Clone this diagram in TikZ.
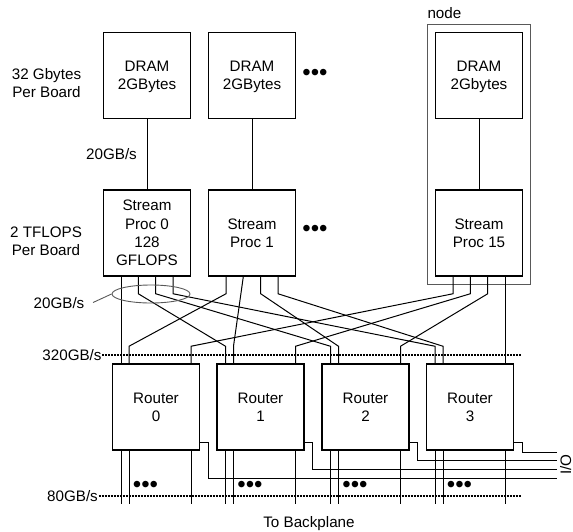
\documentclass[tikz,border=0pt]{standalone}
\usepackage{fontspec}
\setmainfont{Liberation Sans}
\usetikzlibrary{calc,shapes.geometric,fit}
\newcommand\diagfont{\fontsize{15.2}{18.4}\selectfont}
\begin{document}
\begin{tikzpicture}[x=1pt,y=-1pt,
  box/.style={draw,line width=1.5pt,minimum width=87pt,minimum height=86pt,inner sep=0pt,align=center,font=\diagfont,text depth=0pt},
  lbl/.style={inner sep=0.5pt,align=center,font=\diagfont,text depth=0pt},
  wire/.style={line width=1pt},
  dotline/.style={line width=2pt,dash pattern=on 2pt off 1pt},
  dotsym/.style={inner sep=0pt,font=\fontsize{24}{24}\selectfont},
  greyline/.style={draw=black!65,line width=0.9pt}]
\useasboundingbox (0,0) rectangle (573,531);

% memory and processors
\node[box] (d0)  at (147,75.5) {DRAM\\2GBytes};
\node[box] (d1)  at (252,75.5) {DRAM\\2GBytes};
\node[box] (d15) at (479,75.5) {DRAM\\2Gbytes};
\node[box] (p0)  at (147,233) {Stream\\Proc 0\\128\\GFLOPS};
\node[box] (p1)  at (252,233) {Stream\\Proc 1};
\node[box] (p15) at (479,233) {Stream\\Proc 15};
\node[greyline,fit=(d15)(p15),inner sep=7.5pt] (frame) {};
\node[lbl,anchor=base west] (nodelbl) at ($(frame.north west)+(0,-5)$) {node};

\draw[wire] (d0) -- (p0);
\draw[wire] (d1) -- (p1);
\draw[wire] (d15) -- (p15);

\node[dotsym] (dt1) at (315,75) {•••};
\node[dotsym] (dt2) at (315,231) {•••};

% routers
\node[box] (r0) at (156,407) {Router\\0};
\node[box] (r1) at (260.5,407) {Router\\1};
\node[box] (r2) at (365.5,407) {Router\\2};
\node[box] (r3) at (470,407) {Router\\3};

% ports
\foreach \p in {p0,p1,p15}{
  \coordinate (\p-a) at ($(\p.south)+(-26,0)$);
  \coordinate (\p-b) at ($(\p.south)+(-8.7,0)$);
  \coordinate (\p-c) at ($(\p.south)+(8.7,0)$);
  \coordinate (\p-d) at ($(\p.south)+(26,0)$);
}
\foreach \r in {r0,r1,r2,r3}{
  \coordinate (\r-a) at ($(\r.north)+(-35,0)$);
  \coordinate (\r-b) at ($(\r.north)+(-27,0)$);
  \coordinate (\r-c) at ($(\r.north)+(35,0)$);
  \coordinate (\r-sa) at ($(\r.south)+(-35,0)$);
  \coordinate (\r-sb) at ($(\r.south)+(-27,0)$);
  \coordinate (\r-sc) at ($(\r.south)+(35,0)$);
  \draw[wire] (\r-sa) -- ++(0,53);
  \draw[wire] (\r-sb) -- ++(0,53);
  \draw[wire] (\r-sc) -- ++(0,53);
  \node[dotsym] (\r-dots) at ($(\r.center)+(-10.5,80)$) {•••};
}

% crossbar wiring
\draw[wire] (p0-a) -- (r0-a);
\draw[wire] (p15-d) -- (r3-c);
\draw[wire] (p1-b) -- ($(r1-b)+(0,-17)$) -- (r1-b);
\foreach \s/\t in {p0-b/r1-a, p0-c/r2-a, p0-d/r3-a, p1-a/r0-b, p1-c/r2-b, p1-d/r3-b, p15-a/r0-c, p15-b/r1-c, p15-c/r2-c}
  \draw[wire] (\s) -- ++(0,17) -- ($(\t)+(0,-17)$) -- (\t);

% bandwidth ellipse
\node[ellipse,greyline,minimum width=78pt,minimum height=18pt,inner sep=0pt] (ell) at (151,294) {};

% labels
\node[lbl] (mem) at (46.5,83) {32 Gbytes\\Per Board};
\node[lbl] (bw20a) at (111.5,154) {20GB/s};
\node[lbl] (flops) at (46,241) {2 TFLOPS\\Per Board};
\node[lbl] (bw20b) at (59,302.5) {20GB/s};
\draw[greyline] ([xshift=8pt]bw20b.east) -- (ell.west);
\node[lbl] (bw320) at (72,354.5) {320GB/s};
\node[lbl] (bw80) at (72.5,495.5) {80GB/s};
\node[lbl] (back) at (309,521.5) {To Backplane};

\coordinate (e320) at (521,355);
\coordinate (e80) at (521,496);
\draw[dotline] (bw320.east |- e320) -- (e320);
\draw[dotline] (bw80.east |- e80) -- (e80);

% I/O lines
\coordinate (io0) at (557,478);
\coordinate (io1) at (557,469);
\coordinate (io2) at (557,460);
\coordinate (io3) at (557,452);
\draw[wire] ($(r0.south east)+(0,-8)$) -- ++(8,0) |- (io0);
\draw[wire] ($(r1.south east)+(0,-8)$) -- ++(8,0) |- (io1);
\draw[wire] ($(r2.south east)+(0,-8)$) -- ++(8,0) |- (io2);
\draw[wire] ($(r3.south east)+(0,-8)$) -- ++(8,0) |- (io3);
\node[lbl,rotate=90] (iolbl) at (565.5,464.5) {I/O};
\end{tikzpicture}
\end{document}
